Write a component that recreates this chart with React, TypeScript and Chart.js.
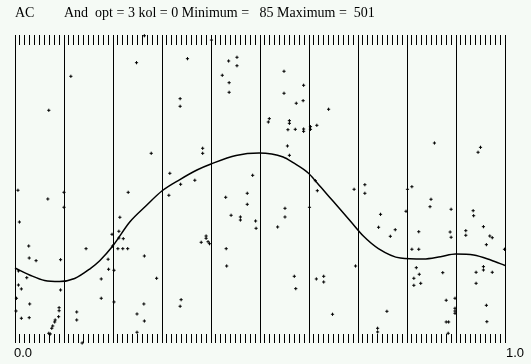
import React, { useEffect, useRef } from 'react';
import { Chart, registerables } from 'chart.js';

Chart.register(...registerables);

const TITLE_LEFT = 'AC';
const TITLE_RIGHT = 'And  opt = 3 kol = 0 Minimum =   85 Maximum =  501';
const X_MIN = 0;
const X_MAX = 1;
const Y_MIN = 85;
const Y_MAX = 501;
const X_MAJOR_STEP = 0.1;
const X_MINOR_STEP = 0.01;
const X_END_LABELS = ['0.0', '1.0'];

// smoothed curve
const curveX = [0, 0.0297, 0.0604, 0.091, 0.1217, 0.1524, 0.1729, 0.1995, 0.2342, 0.267, 0.2997, 0.3365, 0.3713, 0.4, 0.4511, 0.4982, 0.5473, 0.5677, 0.5984, 0.6168, 0.6434, 0.6843, 0.7109, 0.7416, 0.7866, 0.8337, 0.8685, 0.8992, 0.936, 0.9708, 1.0];
const curveY = [186.3, 176.9, 169.4, 168.1, 172.1, 184.9, 196.2, 216, 248.4, 270, 290.3, 305.8, 318.7, 326.8, 338.3, 341.6, 336.2, 328.5, 314.6, 301.1, 280.9, 249.8, 229.5, 212.6, 199.8, 198.5, 201.6, 205.2, 203.9, 197.1, 189.7];

// observations
const pointX = [0.264, 0.248, 0.114, 0.069, 0.401, 0.352, 0.436, 0.453, 0.453, 0.423, 0.437, 0.437, 0.337, 0.337, 0.549, 0.589, 0.549, 0.574, 0.588, 0.640, 0.519, 0.517, 0.560, 0.560, 0.557, 0.572, 0.589, 0.589, 0.603, 0.603, 0.616, 0.556, 0.383, 0.383, 0.856, 0.950, 0.945, 0.278, 0.316, 0.006, 0.067, 0.100, 0.100, 0.231, 0.314, 0.009, 0.028, 0.145, 0.214, 0.212, 0.198, 0.212, 0.221, 0.210, 0.220, 0.230, 0.199, 0.338, 0.367, 0.560, 0.485, 0.474, 0.430, 0.474, 0.441, 0.460, 0.460, 0.491, 0.492, 0.536, 0.551, 0.551, 0.601, 0.613, 0.617, 0.390, 0.390, 0.380, 0.394, 0.397, 0.431, 0.692, 0.714, 0.714, 0.810, 0.801, 0.849, 0.847, 0.890, 0.798, 0.746, 0.742, 0.776, 0.766, 0.824, 0.888, 0.890, 0.935, 0.936, 0.920, 0.920, 0.956, 0.969, 0.974, 0.962, 0.810, 0.824, 0.999, 0.432, 0.570, 0.573, 0.615, 0.630, 0.630, 0.648, 0.339, 0.337, 0.029, 0.043, 0.093, 0.007, 0.024, 0.007, 0.013, 0.093, 0.003, 0.030, 0.002, 0.013, 0.029, 0.090, 0.090, 0.089, 0.082, 0.081, 0.077, 0.075, 0.069, 0.072, 0.137, 0.126, 0.126, 0.176, 0.176, 0.190, 0.191, 0.202, 0.202, 0.264, 0.289, 0.263, 0.249, 0.264, 0.249, 0.695, 0.819, 0.825, 0.814, 0.828, 0.814, 0.873, 0.941, 0.956, 0.956, 0.974, 0.941, 0.759, 0.880, 0.898, 0.898, 0.898, 0.898, 0.880, 0.885, 0.884, 0.962, 0.963, 0.740, 0.740];
const pointY = [500, 463.6, 445.2, 399.3, 494.2, 469, 465.9, 470.9, 459.5, 446.6, 436.6, 423.6, 415, 404.7, 452, 433.1, 422.3, 408.8, 412.3, 400.7, 388, 383.5, 385.3, 381.7, 373.1, 373.6, 374, 370.9, 377.2, 373.6, 379, 351.1, 348, 341.2, 355.1, 349.3, 342.6, 341.2, 314.2, 291.3, 279.5, 288.5, 268.3, 288.5, 284.5, 248.4, 216, 212.4, 254.8, 235.9, 231.8, 226.8, 225.9, 212.4, 212.4, 212.4, 216, 299.4, 304.8, 338.5, 311.5, 287.2, 281.8, 272.3, 257.5, 255.2, 251.1, 249.8, 239.9, 241.7, 266.9, 255.2, 268.3, 304.2, 290.7, 229.5, 226.4, 221, 221.8, 219.1, 212.4, 292.6, 298.8, 287.2, 296.1, 292.6, 279.1, 269.1, 265.6, 262.9, 258.8, 241.3, 238, 229.1, 235.3, 234.9, 227.8, 263.7, 256.9, 236.7, 230.5, 242.1, 229.5, 227.2, 217.8, 211.6, 211.6, 211.6, 189, 175.1, 158.4, 171.5, 175.1, 167.4, 123.8, 143.5, 134.6, 199.8, 196.2, 197.5, 182.3, 173.2, 163.3, 158, 156.6, 145.4, 137.7, 128.2, 118.4, 119.2, 132.7, 128.6, 120.5, 116.1, 113.4, 108, 104.9, 98.1, 97.2, 85, 126.9, 116.1, 171.5, 145.4, 198.1, 184.6, 183.2, 140.4, 202.5, 172.4, 137.7, 124.2, 114.7, 99.5, 189, 186.7, 177.8, 172.4, 165.6, 162.9, 180, 180.5, 188.1, 183.6, 180.5, 165.6, 127.8, 142.7, 145.4, 131.9, 128.2, 125.1, 113.4, 113.4, 98.1, 135.9, 113.8, 104.9, 99.9];

const BG = '#f5faf5';
const INK = '#000000';

const decorPlugin = {
  id: 'decor',
  beforeDraw(chart: any) {
    const { ctx, width, height } = chart;
    ctx.save();
    ctx.fillStyle = BG;
    ctx.fillRect(0, 0, width, height);
    ctx.restore();
  },
  beforeDatasetsDraw(chart: any) {
    const { ctx, chartArea } = chart;
    const xs = chart.scales.x;
    ctx.save();
    ctx.strokeStyle = INK;
    ctx.lineWidth = 1;
    ctx.beginPath();
    const n = Math.round((X_MAX - X_MIN) / X_MINOR_STEP);
    for (let i = 0; i <= n; i++) {
      const px = Math.round(xs.getPixelForValue(X_MIN + i * X_MINOR_STEP) - 0.5) + 0.5;
      ctx.moveTo(px, chartArea.top);
      ctx.lineTo(px, chartArea.top + 10);
      ctx.moveTo(px, chartArea.bottom - 9);
      ctx.lineTo(px, chartArea.bottom);
    }
    ctx.stroke();
    ctx.restore();
  },
  afterDraw(chart: any) {
    const { ctx } = chart;
    const xs = chart.scales.x;
    ctx.save();
    ctx.fillStyle = INK;
    ctx.textBaseline = 'alphabetic';
    ctx.textAlign = 'left';
    ctx.font = '14px "Liberation Serif"';
    ctx.fillText(TITLE_LEFT, 15, 17);
    ctx.fillText(TITLE_RIGHT, 64, 17);
    ctx.font = '13px "Liberation Sans"';
    ctx.fillText(X_END_LABELS[0], xs.getPixelForValue(X_MIN) - 1, 357);
    ctx.fillText(X_END_LABELS[1], xs.getPixelForValue(X_MAX) + 1, 357);
    ctx.restore();
  },
};

export default function App() {
  const canvasRef = useRef<HTMLCanvasElement | null>(null);

  useEffect(() => {
    const canvas = canvasRef.current;
    if (!canvas) return;
    const points = pointX.map((x, i) => ({ x, y: pointY[i] }));
    const curve = curveX.map((x, i) => ({ x, y: curveY[i] }));
    const chart = new Chart(canvas, {
      type: 'scatter',
      data: {
        datasets: [
          {
            type: 'line',
            data: curve,
            borderColor: INK,
            borderWidth: 1.5,
            pointRadius: 0,
            fill: false,
            cubicInterpolationMode: 'monotone',
            clip: false,
          } as any,
          {
            data: points,
            pointStyle: 'cross',
            pointRadius: 1.6,
            borderWidth: 1,
            borderColor: INK,
            backgroundColor: INK,
            clip: false,
          } as any,
        ],
      },
      options: {
        animation: false,
        responsive: true,
        maintainAspectRatio: false,
        layout: { padding: { left: 15, right: 26, top: 35, bottom: 21 } },
        plugins: {
          legend: { display: false },
          tooltip: { enabled: false },
          title: { display: false },
        },
        events: [],
        scales: {
          x: {
            type: 'linear',
            min: X_MIN,
            max: X_MAX,
            display: true,
            border: { display: false },
            grid: { display: true, drawTicks: false, color: INK, lineWidth: 1 },
            ticks: { display: false, stepSize: X_MAJOR_STEP },
          },
          y: {
            type: 'linear',
            min: Y_MIN,
            max: Y_MAX,
            display: false,
          },
        },
      },
      plugins: [decorPlugin],
    });
    return () => chart.destroy();
  }, []);

  return (
    <div style={{ position: 'absolute', left: 0, top: 0, width: 531, height: 364 }}>
      <canvas ref={canvasRef} />
    </div>
  );
}
